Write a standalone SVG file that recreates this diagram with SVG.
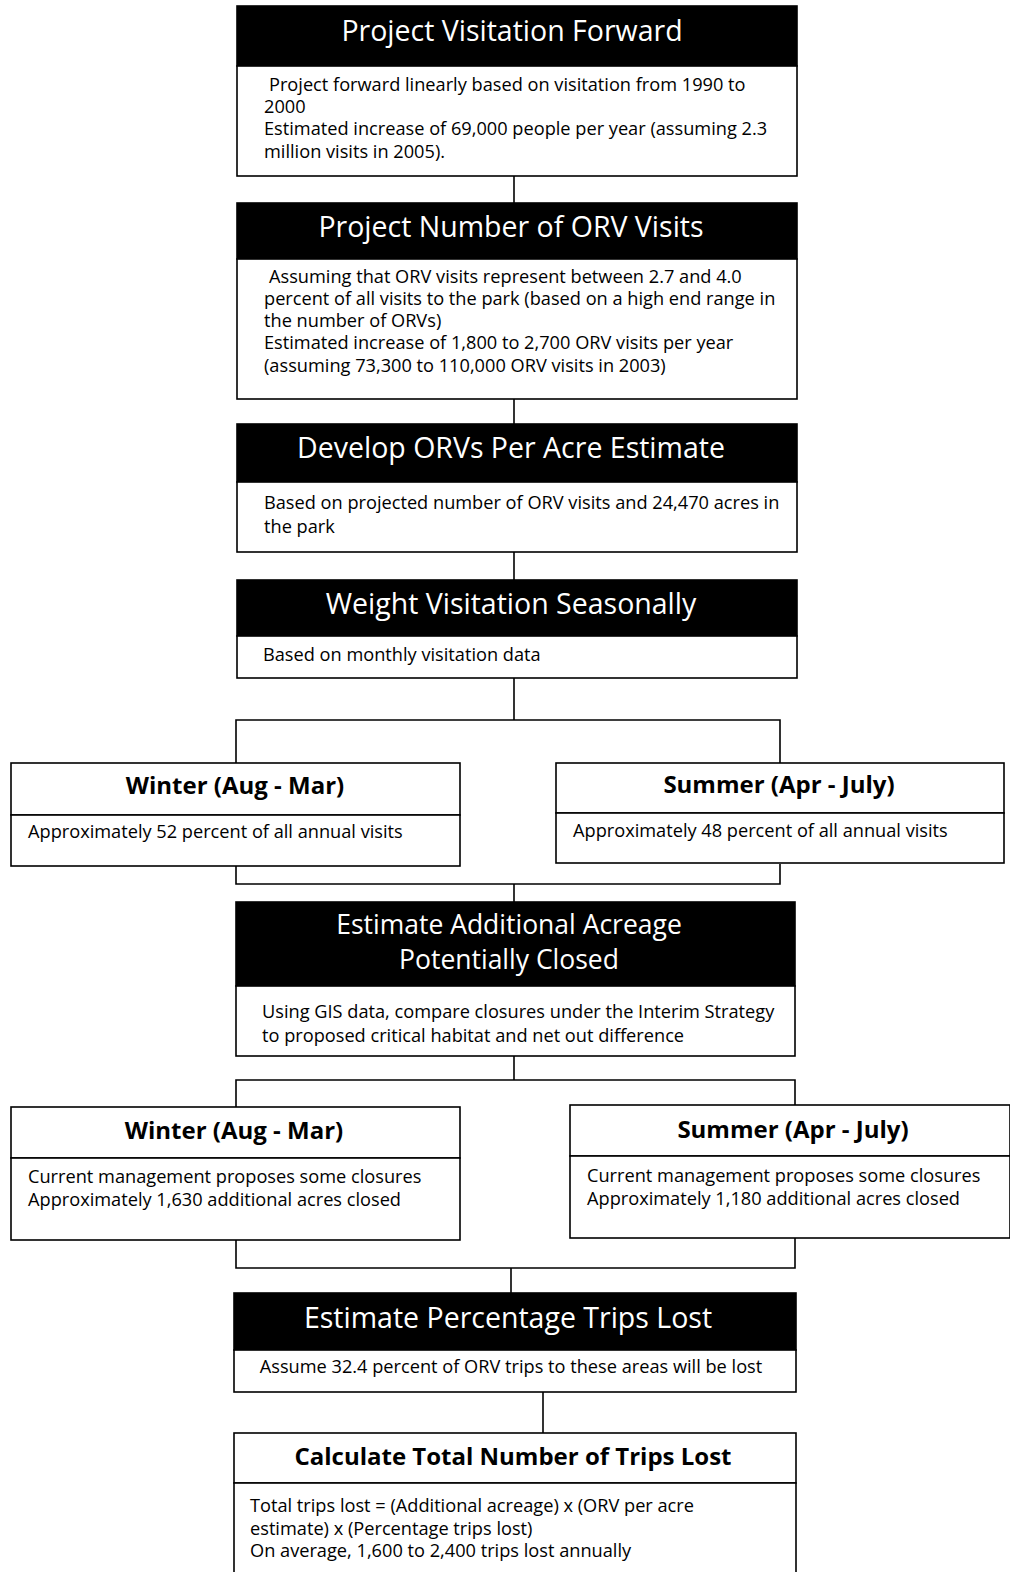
<svg xmlns="http://www.w3.org/2000/svg" width="1010" height="1572" viewBox="0 0 1010 1572">
<style>
.box{fill:#fff;stroke:#000;stroke-width:1.6}
.hdr{fill:#000;stroke:#000;stroke-width:1.6}
.ht{font-family:"Open Sans","DejaVu Sans",sans-serif;font-size:28.5px;fill:#fff;text-anchor:middle}
.ht2{font-size:26.5px}
.bt{font-family:"Open Sans","DejaVu Sans",sans-serif;font-size:18.2px;fill:#000}
.sh{font-family:"Open Sans","DejaVu Sans",sans-serif;font-size:24px;font-weight:bold;fill:#000;text-anchor:middle}
.con{fill:none;stroke:#000;stroke-width:1.6}
</style>
<rect width="1010" height="1572" fill="#fff"/>
<g id="connectors">
<line class="con" x1="514" y1="176" x2="514" y2="203"/>
<line class="con" x1="514" y1="399" x2="514" y2="424"/>
<line class="con" x1="514" y1="552" x2="514" y2="580"/>
<polyline class="con" points="514,678 514,720"/>
<polyline class="con" points="236,763 236,720 780,720 780,763"/>
<polyline class="con" points="236,866 236,884 780,884 780,864"/>
<line class="con" x1="514" y1="884" x2="514" y2="902"/>
<line class="con" x1="514" y1="1056" x2="514" y2="1080"/>
<polyline class="con" points="236,1107 236,1080 795,1080 795,1105"/>
<polyline class="con" points="236,1240 236,1268 795,1268 795,1238"/>
<line class="con" x1="511" y1="1268" x2="511" y2="1293"/>
<line class="con" x1="543" y1="1392" x2="543" y2="1433"/>
</g>
<g id="n1">
<rect class="hdr" x="237" y="6" width="560" height="60"/>
<rect class="box" x="237" y="66" width="560" height="110"/>
<text class="ht" x="512" y="41">Project Visitation Forward</text>
<text class="bt" x="269" y="91">Project forward linearly based on visitation from 1990 to</text>
<text class="bt" x="264" y="113">2000</text>
<text class="bt" x="264" y="135">Estimated increase of 69,000 people per year (assuming 2.3</text>
<text class="bt" x="264" y="158">million visits in 2005).</text>
</g>
<g id="n2">
<rect class="hdr" x="237" y="203" width="560" height="56"/>
<rect class="box" x="237" y="259" width="560" height="140"/>
<text class="ht" x="511" y="237">Project Number of ORV Visits</text>
<text class="bt" x="269" y="283">Assuming that ORV visits represent between 2.7 and 4.0</text>
<text class="bt" x="264" y="305">percent of all visits to the park (based on a high end range in</text>
<text class="bt" x="264" y="327">the number of ORVs)</text>
<text class="bt" x="264" y="349">Estimated increase of 1,800 to 2,700 ORV visits per year</text>
<text class="bt" x="264" y="372">(assuming 73,300 to 110,000 ORV visits in 2003)</text>
</g>
<g id="n3">
<rect class="hdr" x="237" y="424" width="560" height="58"/>
<rect class="box" x="237" y="482" width="560" height="70"/>
<text class="ht" x="511" y="458">Develop ORVs Per Acre Estimate</text>
<text class="bt" x="264" y="509">Based on projected number of ORV visits and 24,470 acres in</text>
<text class="bt" x="264" y="533">the park</text>
</g>
<g id="n4">
<rect class="hdr" x="237" y="580" width="560" height="56"/>
<rect class="box" x="237" y="636" width="560" height="42"/>
<text class="ht" x="511" y="614">Weight Visitation Seasonally</text>
<text class="bt" x="263" y="661">Based on monthly visitation data</text>
</g>
<g id="n5">
<rect class="box" x="11" y="763" width="449" height="52"/>
<rect class="box" x="11" y="815" width="449" height="51"/>
<text class="sh" x="235" y="794">Winter (Aug - Mar)</text>
<text class="bt" x="28" y="838">Approximately 52 percent of all annual visits</text>
</g>
<g id="n6">
<rect class="box" x="556" y="763" width="448" height="50"/>
<rect class="box" x="556" y="813" width="448" height="50"/>
<text class="sh" x="779" y="793">Summer (Apr - July)</text>
<text class="bt" x="573" y="837">Approximately 48 percent of all annual visits</text>
</g>
<g id="n7">
<rect class="hdr" x="236" y="902" width="559" height="84"/>
<rect class="box" x="236" y="986" width="559" height="70"/>
<text class="ht ht2" x="509" y="934">Estimate Additional Acreage</text>
<text class="ht ht2" x="509" y="969">Potentially Closed</text>
<text class="bt" x="262" y="1018">Using GIS data, compare closures under the Interim Strategy</text>
<text class="bt" x="262" y="1042">to proposed critical habitat and net out difference</text>
</g>
<g id="n8">
<rect class="box" x="11" y="1107" width="449" height="51"/>
<rect class="box" x="11" y="1158" width="449" height="82"/>
<text class="sh" x="234" y="1139">Winter (Aug - Mar)</text>
<text class="bt" x="28" y="1183">Current management proposes some closures</text>
<text class="bt" x="28" y="1206">Approximately 1,630 additional acres closed</text>
</g>
<g id="n9">
<rect class="box" x="570" y="1105" width="440" height="51"/>
<rect class="box" x="570" y="1156" width="440" height="82"/>
<text class="sh" x="793" y="1138">Summer (Apr - July)</text>
<text class="bt" x="587" y="1182">Current management proposes some closures</text>
<text class="bt" x="587" y="1205">Approximately 1,180 additional acres closed</text>
</g>
<g id="n10">
<rect class="hdr" x="234" y="1293" width="562" height="57"/>
<rect class="box" x="234" y="1350" width="562" height="42"/>
<text class="ht" x="508" y="1328">Estimate Percentage Trips Lost</text>
<text class="bt" x="511" y="1373" text-anchor="middle">Assume 32.4 percent of ORV trips to these areas will be lost</text>
</g>
<g id="n11">
<rect class="box" x="234" y="1433" width="562" height="50"/>
<rect class="box" x="234" y="1483" width="562" height="100"/>
<text class="sh" x="513" y="1465">Calculate Total Number of Trips Lost</text>
<text class="bt" x="250" y="1512">Total trips lost = (Additional acreage) x (ORV per acre</text>
<text class="bt" x="250" y="1535">estimate) x (Percentage trips lost)</text>
<text class="bt" x="250" y="1557">On average, 1,600 to 2,400 trips lost annually</text>
</g>
</svg>
